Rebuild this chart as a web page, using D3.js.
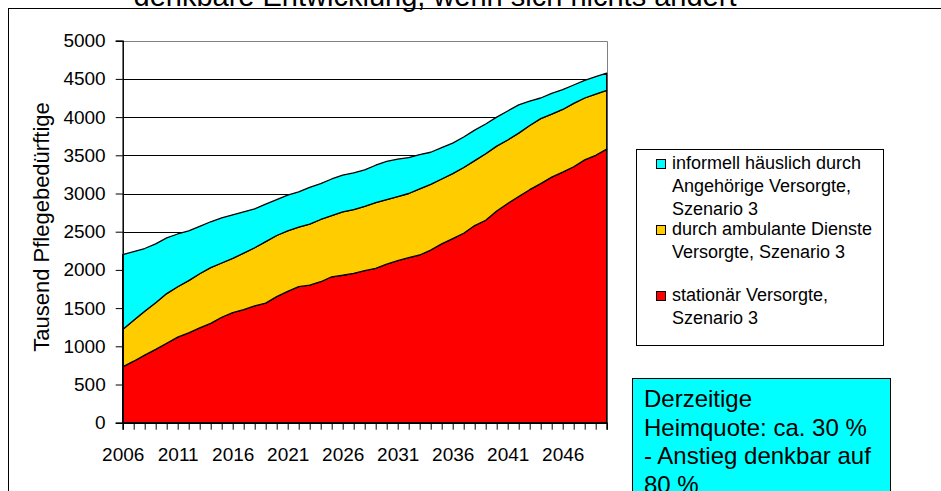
<!DOCTYPE html>
<html>
<head>
<meta charset="utf-8">
<script src="https://cdn.jsdelivr.net/npm/d3@7"></script>
<style>
  body { margin: 0; background: #fff; }
  svg { display: block; font-family: 'Liberation Sans', Arial, sans-serif; }
</style>
</head>
<body>
<svg></svg>
<script>
// Jahre 2006 - 2050
let years = d3.range(2006, 2051)
let tickYears = [2006, 2011, 2016, 2021, 2026, 2031, 2036, 2041, 2046]
let yTicks = [0, 500, 1000, 1500, 2000, 2500, 3000, 3500, 4000, 4500, 5000]

// Tausend Pflegebeduerftige
let stationaer = [730, 805, 885, 960, 1040, 1120, 1175, 1240, 1300, 1380, 1440, 1480, 1530, 1565, 1650,
  1720, 1780, 1800, 1845, 1910, 1930, 1955, 1990, 2020, 2075, 2120, 2160, 2195, 2260, 2340,
  2410, 2480, 2580, 2650, 2770, 2870, 2960, 3050, 3130, 3215, 3280, 3350, 3440, 3500, 3580]
let ambulant = [490, 535, 575, 610, 650, 660, 685, 710, 730, 710, 710, 740, 760, 805, 800,
  790, 780, 800, 815, 800, 830, 835, 840, 860, 845, 840, 840, 865, 860, 850,
  850, 860, 850, 870, 850, 830, 830, 840, 850, 825, 820, 830, 810, 800, 770]
let informell = [980, 900, 820, 770, 730, 690, 650, 620, 600, 590, 570, 540, 510, 490, 470,
  470, 460, 480, 470, 480, 480, 480, 480, 490, 500, 490, 470, 450, 420, 410,
  400, 400, 400, 390, 380, 380, 370, 320, 270, 270, 260, 240, 230, 230, 225]

let seriesNames = ['stationär', 'ambulant', 'informell']
let seriesColors = ['#ff0000', '#ffcc00', '#00ffff']
let legendLines = [
  ['informell häuslich durch', 'Angehörige Versorgte,', 'Szenario 3'],
  ['durch ambulante Dienste', 'Versorgte, Szenario 3'],
  ['stationär Versorgte,', 'Szenario 3']
]
let noteLines = ['Derzeitige', 'Heimquote: ca. 30 %', '- Anstieg denkbar auf', '80 %']

let width = 941
let height = 491
let plot = { left: 122.7, right: 606.7, top: 40.7, bottom: 422.7 }

let svg = d3.select('svg').attr('width', width).attr('height', height)

let rows = years.map((y, i) => ({ year: y, 'stationär': stationaer[i], ambulant: ambulant[i], informell: informell[i] }))
let stacked = d3.stack().keys(seriesNames)(rows)

let xScale = d3.scaleLinear().domain([2006, 2050]).range([plot.left, plot.right])
let yScale = d3.scaleLinear().domain([0, 5000]).range([plot.bottom, plot.top])

// Rahmen und Titel
svg.append('rect')
  .attr('x', 8.5).attr('y', 8.5)
  .attr('width', width).attr('height', height)
  .attr('fill', 'none').attr('stroke', '#000').attr('stroke-width', 1)

svg.append('text')
  .attr('x', 435).attr('y', 6)
  .attr('text-anchor', 'middle')
  .style('font-size', '29px')
  .text('denkbare Entwicklung, wenn sich nichts ändert')

// Gitternetz
svg.append('g')
  .selectAll('line')
  .data(yTicks.filter(d => d > 0))
  .enter()
  .append('line')
  .attr('x1', plot.left).attr('x2', plot.right)
  .attr('y1', d => Math.round(yScale(d)) + 0.5).attr('y2', d => Math.round(yScale(d)) + 0.5)
  .attr('stroke', '#000').attr('stroke-width', 1)

// Plotbereich Rand
svg.append('path')
  .attr('d', `M${plot.left},${Math.round(plot.top) + 0.5}H${Math.round(plot.right) + 0.5}V${plot.bottom}`)
  .attr('fill', 'none').attr('stroke', '#808080').attr('stroke-width', 1)

let area = d3.area()
  .x(d => xScale(d.data.year))
  .y0(d => yScale(d[0]))
  .y1(d => yScale(d[1]))

svg.append('g')
  .selectAll('path')
  .data(stacked)
  .enter()
  .append('path')
  .attr('d', area)
  .attr('fill', (d, i) => seriesColors[i])
  .attr('stroke', '#000')
  .attr('stroke-width', 1.3)
  .attr('stroke-linejoin', 'round')

// Achsen
let xAxis = d3.axisBottom(xScale)
  .tickValues(years)
  .tickSize(7)
  .tickPadding(18)
  .tickFormat(d => tickYears.includes(d) ? d : '')

let yAxis = d3.axisLeft(yScale)
  .tickValues(yTicks)
  .tickSize(7)
  .tickPadding(10)
  .tickFormat(d3.format('d'))

svg.append('g')
  .attr('transform', 'translate(0,' + plot.bottom + ')')
  .call(xAxis)
  .call(g => g.select('.domain').attr('stroke-width', 1.5))
  .call(g => g.selectAll('text').style('font-size', '19px').attr('fill', '#000').attr('font-family', null))

svg.append('g')
  .attr('transform', 'translate(' + plot.left + ',0)')
  .call(yAxis)
  .call(g => g.select('.domain').attr('stroke-width', 1.5))
  .call(g => g.selectAll('text').style('font-size', '19px').attr('fill', '#000').attr('font-family', null))

svg.append('text')
  .attr('transform', 'translate(49,227) rotate(-90)')
  .attr('text-anchor', 'middle')
  .style('font-size', '22px')
  .text('Tausend Pflegebedürftige')

// Legende
let legend = svg.append('g')
legend.append('rect')
  .attr('x', 636.5).attr('y', 149.5)
  .attr('width', 247).attr('height', 196)
  .attr('fill', '#fff').attr('stroke', '#000').attr('stroke-width', 1)

let legendTop = [159, 225, 291]
let legendColors = [seriesColors[2], seriesColors[1], seriesColors[0]]
legendLines.forEach((lines, i) => {
  legend.append('rect')
    .attr('x', 656.5).attr('y', legendTop[i] + 0.5)
    .attr('width', 9).attr('height', 9)
    .attr('fill', legendColors[i]).attr('stroke', '#000')
  legend.append('text')
    .style('font-size', '18px')
    .selectAll('tspan')
    .data(lines)
    .enter()
    .append('tspan')
    .attr('x', 672)
    .attr('y', (d, j) => legendTop[i] + 10 + j * 23)
    .text(d => d)
})

// Hinweis
svg.append('rect')
  .attr('x', 632.5).attr('y', 378.5)
  .attr('width', 258).attr('height', 140)
  .attr('fill', '#00ffff').attr('stroke', '#000').attr('stroke-width', 1)

svg.append('text')
  .style('font-size', '24px')
  .selectAll('tspan')
  .data(noteLines)
  .enter()
  .append('tspan')
  .attr('x', 644)
  .attr('y', (d, i) => 407 + i * 28.7)
  .text(d => d)
</script>
</body>
</html>
